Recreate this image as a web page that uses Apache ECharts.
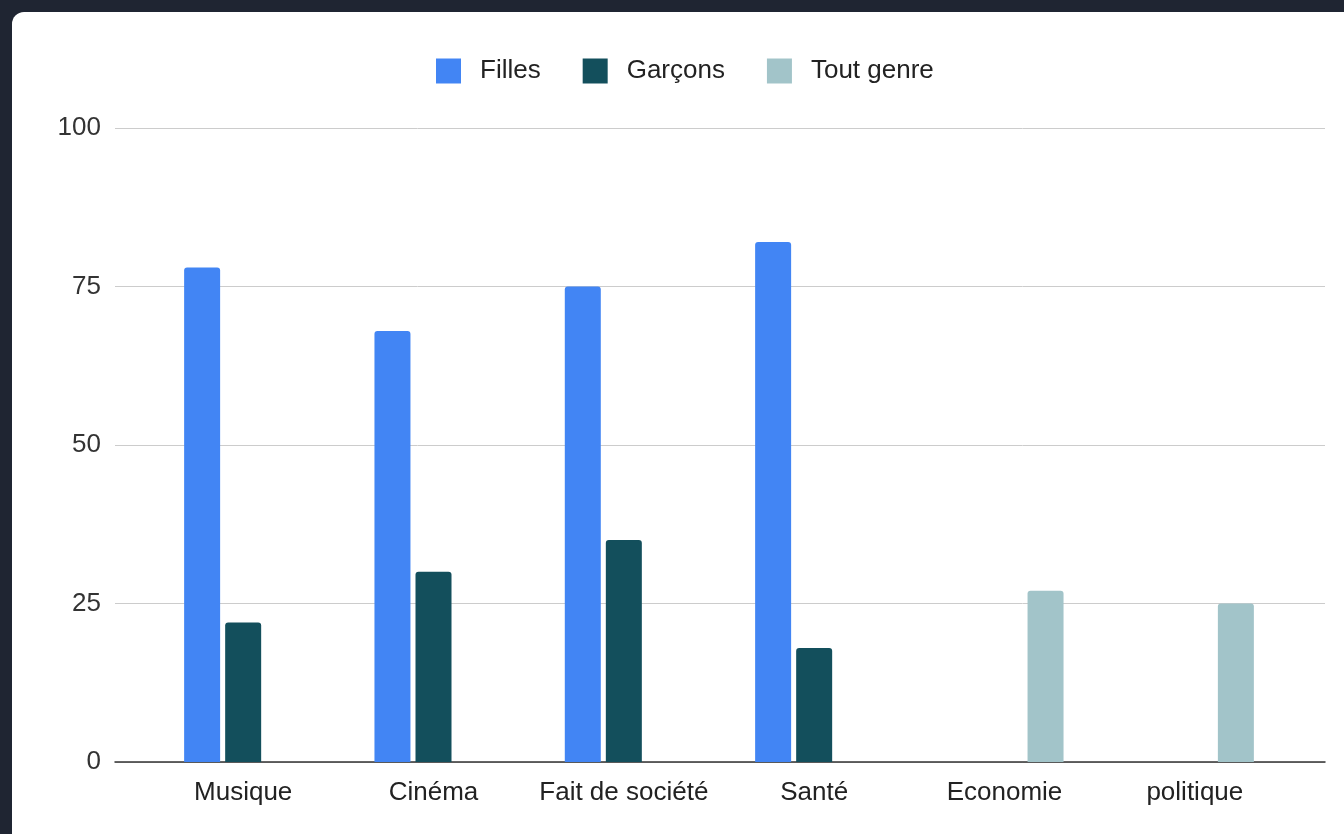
<!DOCTYPE html>
<html>
<head>
<meta charset="utf-8">
<script src="https://cdn.jsdelivr.net/npm/echarts@6/dist/echarts.min.js"></script>
<style>
  html, body { margin: 0; padding: 0; background: #1f2532; overflow: hidden; }
  #card { position: absolute; left: 12px; top: 12px; width: 1400px; height: 900px; background: #fff; border-radius: 12px; }
  #chart { position: absolute; left: 0; top: 0; width: 1344px; height: 834px; }
</style>
</head>
<body>
<div id="card"></div>
<div id="chart"></div>
<script>
// categories et valeurs
var categories = ['Musique', 'Cinéma', 'Fait de société', 'Santé', 'Economie', 'politique'];
var filles = [78, 68, 75, 82, null, null];
var garcons = [22, 30, 35, 18, null, null];
var toutGenre = [null, null, null, null, 27, 25];
var yTicks = [0, 25, 50, 75, 100];

var font = '"Liberation Sans", Arial, sans-serif';
var chart = echarts.init(document.getElementById('chart'));

var barStyle = function (color) {
  return { color: color, borderRadius: [3, 3, 0, 0] };
};

var option = {
  backgroundColor: 'transparent',
  textStyle: { fontFamily: font },
  legend: {
    left: 431,
    top: 53,
    icon: 'rect',
    itemWidth: 25,
    itemHeight: 25,
    itemGap: 42,
    textStyle: { fontSize: 26, color: '#222', fontFamily: font, padding: [0, 0, 0, 14] },
    data: ['Filles', 'Garçons', 'Tout genre']
  },
  // grille 0 : lignes de repère et axe Y, grille 1 : les barres
  grid: [
    { left: 115, right: 19, top: 128, bottom: 72 },
    { left: 148, right: 54, top: 128, bottom: 72 }
  ],
  xAxis: [
    {
      type: 'value', gridIndex: 0, min: 0, max: 1,
      axisLine: { show: true, lineStyle: { color: '#333', width: 1.5 } },
      axisTick: { show: false }, axisLabel: { show: false }, splitLine: { show: false }
    },
    {
      type: 'category', gridIndex: 1, data: categories,
      axisLine: { show: false }, axisTick: { show: false },
      axisLabel: { interval: 0, fontSize: 26, color: '#222', margin: 18, fontFamily: font }
    }
  ],
  yAxis: [
    {
      type: 'value', gridIndex: 0, min: yTicks[0], max: yTicks[yTicks.length - 1], interval: 25,
      axisLine: { show: false }, axisTick: { show: false },
      axisLabel: { fontSize: 26, color: '#333', margin: 14, fontFamily: font, padding: [4, 0, 0, 0] },
      splitLine: { lineStyle: { color: '#cccccc', width: 1 } }
    },
    {
      type: 'value', gridIndex: 1, min: 0, max: 100,
      show: false, splitLine: { show: false }
    }
  ],
  series: [
    { name: 'Filles', type: 'bar', xAxisIndex: 1, yAxisIndex: 1, data: filles,
      barWidth: 36, barGap: '14%', itemStyle: barStyle('#4285f4') },
    { name: 'Garçons', type: 'bar', xAxisIndex: 1, yAxisIndex: 1, data: garcons,
      barWidth: 36, barGap: '14%', itemStyle: barStyle('#134f5c') },
    { name: 'Tout genre', type: 'bar', xAxisIndex: 1, yAxisIndex: 1, data: toutGenre,
      barWidth: 36, barGap: '14%', itemStyle: barStyle('#a2c4c9') }
  ]
};

chart.setOption(option);
</script>
</body>
</html>
